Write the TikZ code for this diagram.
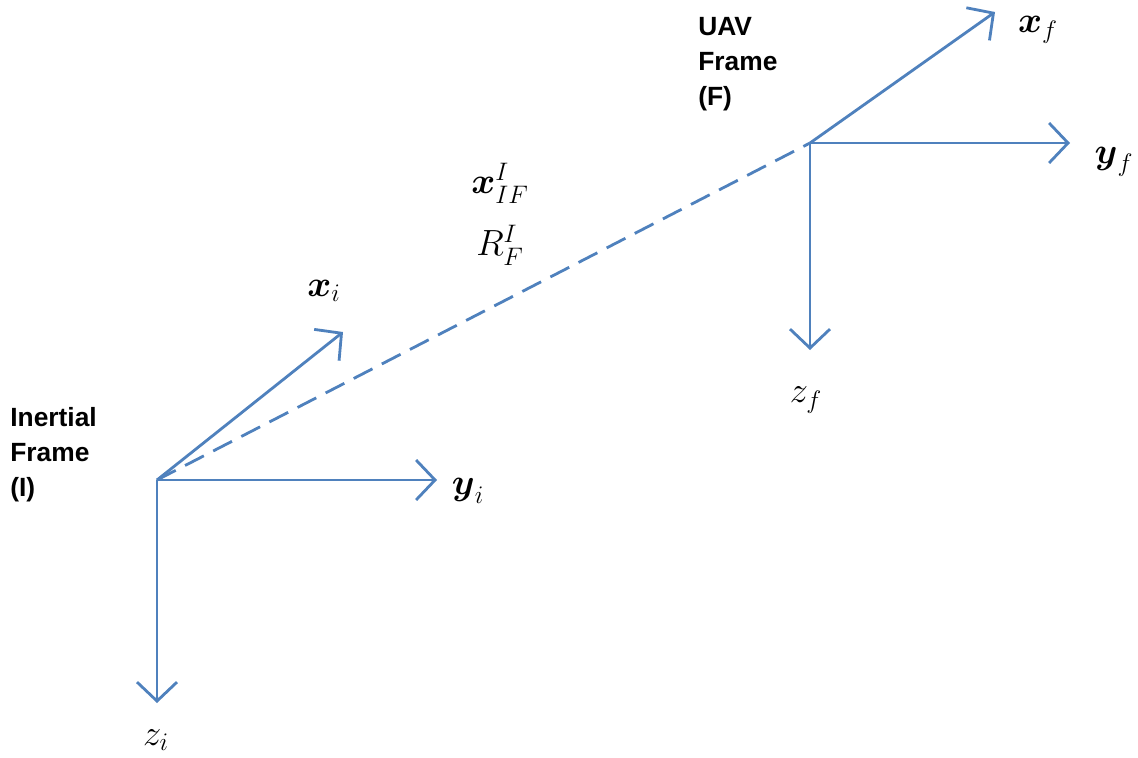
\documentclass[tikz,border=0pt]{standalone}
\usepackage{amsmath}
\usepackage{fontspec}
\newfontfamily\labelfont{Liberation Sans}
\usetikzlibrary{arrows.meta}

\definecolor{axisblue}{RGB}{79,129,189}

\begin{document}
\begin{tikzpicture}[
    x=0.02cm, y=-0.02cm,
    axis/.style={draw=axisblue, line width=1.6pt, -{Straight Barb[length=0.38cm, width=0.8cm, line width=1.6pt]}},
    link/.style={draw=axisblue, line width=1.6pt, dash pattern=on 12pt off 6pt},
    frame/.style={font=\labelfont\bfseries\fontsize{15}{19.8}\selectfont, align=left, anchor=north west, inner sep=0pt},
    sym/.style={font=\fontsize{20}{24}\selectfont, inner sep=0pt}
]
\useasboundingbox (0,0) rectangle (1138,757);

% inertial frame
\coordinate (oi) at (157,480);
\coordinate (xi) at (343,332);
\coordinate (yi) at (437,480);
\coordinate (zi) at (157,703);

% UAV frame
\coordinate (of) at (810,143);
\coordinate (xf) at (995,12);
\coordinate (yf) at (1070,143);
\coordinate (zf) at (810,350);

\draw[link] (oi) -- (of);

\draw[axis] (oi) -- (xi);
\draw[axis] (oi) -- (yi);
\draw[axis] (oi) -- (zi);

\draw[axis] (of) -- (xf);
\draw[axis] (of) -- (yf);
\draw[axis] (of) -- (zf);

\node[sym] (lxi) at (324,291) {$\boldsymbol{x}_i$};
\node[sym] (lyi) at (468,491) {$\boldsymbol{y}_i$};
\node[sym] (lzi) at (156,740) {$z_i$};

\node[sym] (lxf) at (1038,30) {$\boldsymbol{x}_f$};
\node[sym] (lyf) at (1114,162) {$\boldsymbol{y}_f$};
\node[sym] (lzf) at (806,400) {$z_f$};

\node[sym] (pos) at (500,183) {$\boldsymbol{x}^{I}_{IF}$};
\node[sym] (rot) at (500,245) {$R^{I}_{F}$};

\node[frame] (fi) at (10,407) {Inertial\\Frame\\(I)};
\node[frame] (ff) at (698,17) {UAV\\Frame\\(F)};
\end{tikzpicture}
\end{document}
